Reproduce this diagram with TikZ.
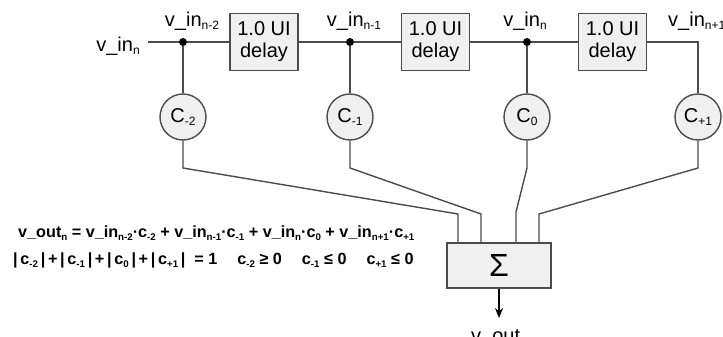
\documentclass[tikz,border=0pt]{standalone}
\usepackage{fontspec}
\usepackage{graphicx}
\setmainfont{Liberation Sans}
\usetikzlibrary{arrows.meta}
\definecolor{wire-gray}{gray}{.3}
\definecolor{box-gray}{gray}{.94}
\newcommand\sbs[1]{\raisebox{-.35ex}{\scalebox{.6}{#1}}}

\begin{document}
\begin{tikzpicture}[x=1pt, y=-1pt, >={Stealth[length=10pt,width=8pt]}, font=\fontsize{20}{22}\selectfont,
	   d/.style={draw=wire-gray, fill=box-gray, line width=1.4pt, minimum width=68pt, minimum height=57pt, inner sep=0pt, align=center},
	   c/.style={draw=wire-gray, fill=box-gray, circle, line width=1.4pt, inner sep=0pt, minimum size=46pt},
	   dot/.style={circle, fill=black, inner sep=0pt, minimum size=8pt},
	   w/.style={draw=wire-gray, line width=1.4pt},
	   lbl/.style={inner sep=0pt},
	   eq/.style={inner sep=0pt, anchor=west, font=\fontsize{16.2}{18}\selectfont\bfseries}]
	  \useasboundingbox (0,0) rectangle (723,337);
	  % delay line
	  \node[lbl] (inN) at (118,46) {v\_in\sbs{n}};
	  \coordinate (start) at (148,42);
	  \node[dot] (j1) at (183,42) {};
	  \node[dot] (j2) at (350,42) {};
	  \node[dot] (j3) at (527,42) {};
	  \coordinate (j4) at (698,42);
	  \node[d] (d1) at (264,42) {1.0 UI\\ delay};
	  \node[d] (d2) at (435.5,42) {1.0 UI\\ delay};
	  \node[d] (d3) at (612.5,42) {1.0 UI\\ delay};
	  \node[lbl] (l1) at (192,21) {v\_in\sbs{n-2}};
	  \node[lbl] (l2) at (354,21) {v\_in\sbs{n-1}};
	  \node[lbl] (l3) at (525,21) {v\_in\sbs{n}};
	  \node[lbl, anchor=west] (l4) at (668,21) {v\_in\sbs{n+1}};
	  \draw[w] (start)--(j1)--(d1); \draw[w] (d1)--(j2)--(d2); \draw[w] (d2)--(j3)--(d3);
	  % taps
	  \node[c] (cm2) at (183,117) {C\sbs{-2}};
	  \node[c] (cm1) at (350,117) {C\sbs{-1}};
	  \node[c] (c0) at (527,117) {C\sbs{0}};
	  \node[c] (cp1) at (698,117) {C\sbs{+1}};
	  \draw[w] (d3)--(j4)--(cp1);
	  \draw[w] (j1)--(cm2); \draw[w] (j2)--(cm1); \draw[w] (j3)--(c0);
	  % summer
	  \node[d, minimum width=104pt, minimum height=45pt, font=\fontsize{32}{32}\selectfont] (sum) at (499,265.5) {Σ};
	  \coordinate (bm2) at (183,168); \coordinate (em2) at (458,214);
	  \coordinate (bm1) at (350,168); \coordinate (em1) at (481,214);
	  \coordinate (b0) at (527,168);  \coordinate (e0) at (516,212);
	  \coordinate (bp1) at (698,168); \coordinate (ep1) at (539,214);
	  \draw[w] (cm2)--(bm2)--(em2)--(em2 |- sum.north);
	  \draw[w] (cm1)--(bm1)--(em1)--(em1 |- sum.north);
	  \draw[w] (c0)--(b0)--(e0)--(e0 |- sum.north);
	  \draw[w] (cp1)--(bp1)--(ep1)--(ep1 |- sum.north);
	  \coordinate (out) at (499,318);
	  \draw[w, draw=black, ->] (sum)--(out);
	  \node[lbl, anchor=north] (vout) at (499,329) {v\_out\sbs{n}};
	  % equations
	  \node[eq] (eq1) at (18,233) {v\_out\sbs{n} = v\_in\sbs{n-2}·c\sbs{-2} + v\_in\sbs{n-1}·c\sbs{-1} + v\_in\sbs{n}·c\sbs{0} + v\_in\sbs{n+1}·c\sbs{+1}};
	  \node[eq] (eq2) at (13,260) {|\,c\sbs{-2}\,|\,+\,|\,c\sbs{-1}\,|\,+\,|\,c\sbs{0}\,|\,+\,|\,c\sbs{+1}\,|\ \ = 1\hspace{20pt}c\sbs{-2} ≥ 0\hspace{20pt}c\sbs{-1} ≤ 0\hspace{20pt}c\sbs{+1} ≤ 0};
	\end{tikzpicture}
\end{document}
